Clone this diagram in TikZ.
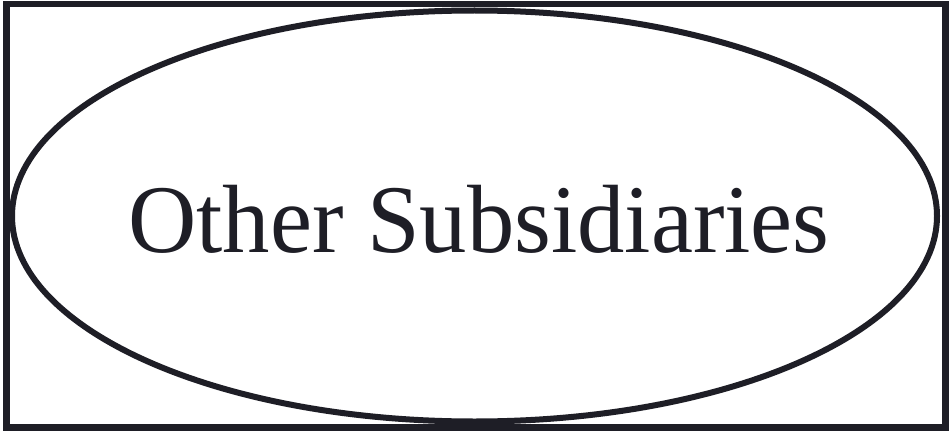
\documentclass[tikz,border=0pt]{standalone}
\usepackage{fontspec}
\setmainfont{Liberation Serif}
\usetikzlibrary{shapes.geometric}
\definecolor{ink}{RGB}{30,30,38}
\tikzset{
  outerbox/.style={draw=ink, line width=6.5pt, minimum width=939pt, minimum height=423.5pt, inner sep=0pt, outer sep=0pt},
  oval/.style={ellipse, draw=ink, line width=6pt, minimum width=925pt, minimum height=411pt, inner sep=0pt, outer sep=0pt},
  label/.style={text=ink, font=\fontsize{97}{110}\selectfont, xscale=0.975, inner sep=0pt, anchor=base}
}
\begin{document}
\begin{tikzpicture}[x=1pt,y=1pt]
\useasboundingbox (0,0) rectangle (952,432);
\fill[white] (0,0) rectangle (952,432);
\node[outerbox] (box) at (476,216.25) {};
\node[oval] (ell) at (474.5,216) {};
\node[label] (txt) at (479,180) {Other Subsidiaries};
\end{tikzpicture}
\end{document}
